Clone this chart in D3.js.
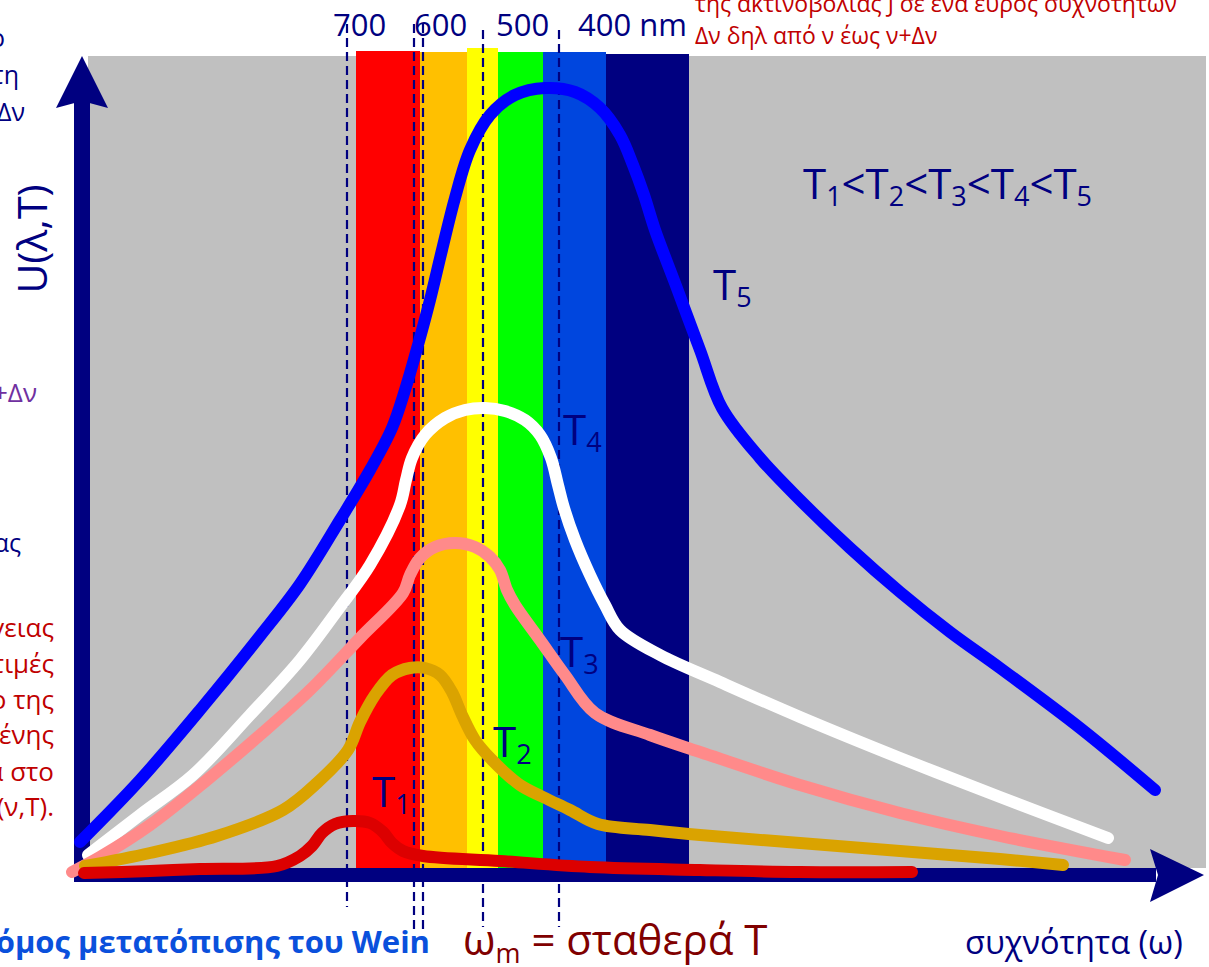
<!DOCTYPE html>
<html><head><meta charset="utf-8">
<script src="https://cdn.jsdelivr.net/npm/d3@7"></script>
<style>
html,body{margin:0;padding:0;background:#fff;overflow:hidden;}
svg{display:block;font-family:"Open Sans","Noto Sans",sans-serif;}
</style></head><body>
<svg id="chart" width="1209" height="967"></svg>
<script>
// ---------------- data (arbitrary units: frequency 0..112, U 0..80) ----------------
const seriesNames = ["T5", "T4", "T3", "T2", "T1"];
const seriesColors = ["#0000FF", "#FFFFFF", "#FF8A8A", "#DAA300", "#DC0000"];

const freqT5 = [0, 6, 12, 18, 22, 26, 29, 31.2, 32.5, 33.8, 35, 36.2, 37.5, 39, 41, 43.5, 46.5, 49.5, 52, 54, 55.3, 56.4, 57.5, 59.5, 62, 64.2, 68, 72, 77, 82, 87, 92, 100, 107.5];
const valT5  = [2.8, 9, 16, 23.4, 28.6, 35, 40, 44.2, 48, 52.5, 57, 62, 67.2, 72, 75.5, 77.5, 78.2, 77.8, 76.2, 73.5, 70.5, 67.5, 64, 58.7, 52, 46.2, 41.2, 37, 32.2, 27.8, 23.8, 20.2, 14.2, 8];

const freqT4 = [0.8, 6, 11.3, 17, 22, 26, 29, 32, 32.6, 33.2, 34.5, 36.5, 38.5, 40.5, 42.5, 44.5, 46, 47.1, 47.8, 48.4, 49.5, 51, 52.5, 54, 58, 64, 72, 82, 92, 102.8];
const valT4  = [1.5, 5.5, 9.5, 15.5, 21, 26.3, 30.5, 36.5, 39, 41.2, 43.5, 45.2, 46, 46.2, 45.9, 45, 43.5, 41.2, 38.5, 36.2, 33, 29.5, 26.5, 24, 21.5, 18.8, 15.3, 11.2, 7.3, 3.2];

const freqT3 = [-0.8, 2, 7, 12.7, 18, 23, 28, 32.3, 33, 34, 35.5, 37.5, 39.5, 41, 42, 42.7, 43.5, 46, 48.5, 51.5, 57, 62, 72, 82, 92, 104.5];
const valT3  = [-0.2, 1.3, 4.5, 9, 13.5, 18, 23.2, 27.7, 29.5, 31.2, 32.3, 32.7, 32.3, 31.3, 30, 28, 26.5, 23, 19.5, 15.7, 13.5, 11.8, 8.5, 5.7, 3.4, 1];

const freqT2 = [0.5, 7, 13.7, 20.3, 23.7, 26.8, 28, 29.5, 31.2, 33, 34.5, 36, 37.2, 38.2, 39.5, 41.2, 44, 46.3, 49, 51.8, 57, 62, 72, 82, 92, 98.3];
const valT2  = [0.4, 1.7, 3.4, 6, 8.7, 12, 14.8, 17.5, 19.5, 20.2, 20.2, 19.5, 17.8, 15.5, 13, 11, 8.5, 7.3, 6, 4.6, 4, 3.5, 2.7, 1.9, 1.1, 0.5];

const freqT1 = [0.4, 7, 12, 19.7, 22, 23.2, 24.2, 25.5, 27.3, 29, 30.3, 31.2, 32.3, 34.3, 42, 51, 62, 72, 83.2];
const valT1  = [-0.3, -0.1, 0.1, 0.4, 1.4, 2.4, 3.7, 4.6, 4.9, 4.7, 3.8, 2.7, 1.9, 1.4, 0.9, 0.3, 0, -0.2, -0.2];

// visible spectrum bands (frequency edges) and colours
const bandEdges  = [27.6, 34, 38.7, 41.8, 46.3, 52.6, 60.9];
const bandTops   = [81.9, 81.8, 82.2, 81.8, 81.8, 81.6];
const bandColors = ["#FF0000", "#FFC000", "#FFFF00", "#00FF00", "#0046DE", "#000080"];

// wavelength tick labels and dashed marker lines
const tickLabels = ["700", "600", "500", "400 nm"];
const tickPos    = [25.3, 33.4, 41.6, 49.8];
const dashPos    = [26.7, 33.4, 34.3, 40.3, 47.9];

// curve labels
const curveLabelNums = ["5", "4", "3", "2", "1"];
const curveLabelAt   = [[63.3, 57], [48.3, 42.5], [48, 20.3], [41.3, 11.3], [29.2, 6.3]];

// ---------------- drawing ----------------
const svg = d3.select("#chart");
const x = d3.scaleLinear().domain([0, 112]).range([80, 1200]);
const y = d3.scaleLinear().domain([0, 80]).range([870, 70]);
const NAVY = "#000080";

// plot background
svg.append("rect").attr("x", 88).attr("y", 56).attr("width", 1118).attr("height", 812).attr("fill", "#C0C0C0");

// spectrum bands
svg.append("g").selectAll("rect").data(bandColors).join("rect")
  .attr("x", (d, i) => x(bandEdges[i]))
  .attr("width", (d, i) => x(bandEdges[i + 1]) - x(bandEdges[i]))
  .attr("y", (d, i) => y(bandTops[i]))
  .attr("height", (d, i) => y(0.2) - y(bandTops[i]))
  .attr("fill", d => d);

// dashed lines
const dashTop = [24, 24, 24, 30, 30], dashBot = [907, 933, 933, 927, 927];
svg.append("g").selectAll("line").data(dashPos).join("line")
  .attr("x1", d => x(d)).attr("x2", d => x(d))
  .attr("y1", (d, i) => dashTop[i]).attr("y2", (d, i) => dashBot[i])
  .attr("stroke", NAVY).attr("stroke-width", 2.2).attr("stroke-dasharray", "9,5");

// axes
svg.append("rect").attr("x", 74).attr("y", 100).attr("width", 16).attr("height", 782).attr("fill", NAVY);
svg.append("rect").attr("x", 74).attr("y", 868).attr("width", 1082).attr("height", 14).attr("fill", NAVY);
svg.append("path").attr("d", "M82,56 L108,108 L82,101 L56,108 Z").attr("fill", NAVY);
svg.append("path").attr("d", "M1204,875 L1150,902 L1158,875 L1150,849 Z").attr("fill", NAVY);

// curves
const series = [[freqT5, valT5], [freqT4, valT4], [freqT3, valT3], [freqT2, valT2], [freqT1, valT1]];
const line = d3.line().x(d => x(d[0])).y(d => y(d[1])).curve(d3.curveCatmullRom.alpha(0.5));
svg.append("g").selectAll("path").data(series).join("path")
  .attr("d", s => line(s[0].map((f, i) => [f, s[1][i]])))
  .attr("fill", "none")
  .attr("stroke", (d, i) => seriesColors[i])
  .attr("stroke-width", 12)
  .attr("stroke-linecap", "round")
  .attr("stroke-linejoin", "round");

// top wavelength labels
svg.append("g").selectAll("text").data(tickLabels).join("text")
  .attr("x", (d, i) => x(tickPos[i])).attr("y", 36)
  .attr("font-size", 31).attr("fill", NAVY).text(d => d);

// curve labels
const cl = svg.append("g").selectAll("text").data(curveLabelNums).join("text")
  .attr("x", (d, i) => x(curveLabelAt[i][0])).attr("y", (d, i) => y(curveLabelAt[i][1]))
  .attr("font-size", 42).attr("fill", NAVY);
cl.append("tspan").text("T");
cl.append("tspan").attr("font-size", 27).attr("dy", 7).text(d => d);

// inequality
const ineq = svg.append("text").attr("x", 803).attr("y", 199).attr("font-size", 42).attr("fill", NAVY);
["1", "2", "3", "4", "5"].forEach((n, i) => {
  ineq.append("tspan").attr("dy", i === 0 ? 0 : -7).text((i === 0 ? "" : "<") + "T");
  ineq.append("tspan").attr("font-size", 27).attr("dy", 7).text(n);
});

// y axis label
svg.append("text").attr("transform", "translate(47,239) rotate(-90)")
  .attr("text-anchor", "middle").attr("font-size", 41).attr("fill", NAVY).text("U(λ,T)");

// top-right red note
const red = "#C00000";
svg.append("text").attr("x", 695).attr("y", 12).attr("font-size", 23).attr("fill", red)
  .text("της ακτινοβολίας J σε ένα εύρος συχνοτήτων");
svg.append("text").attr("x", 695).attr("y", 44).attr("font-size", 23).attr("fill", red)
  .text("Δν δηλ από ν έως ν+Δν");

// left cut-off fragments
const leftNavy = [["ο", 5, 47], ["στη", 19, 84], ["Δν", 25, 121], ["ας", 21, 552]];
leftNavy.forEach(t => svg.append("text").attr("x", t[1]).attr("y", t[2]).attr("text-anchor", "end")
  .attr("font-size", 25).attr("fill", NAVY).text(t[0]));
svg.append("text").attr("x", 37).attr("y", 402).attr("text-anchor", "end")
  .attr("font-size", 26).attr("fill", "#7030A0").text("ν+Δν");
const leftRed = [["ενέργειας", 637], ["τιμές", 673], ["το της", 709], ["μένης", 744], ["α στο", 781], ["U(ν,Τ).", 816]];
leftRed.forEach(t => svg.append("text").attr("x", 54).attr("y", t[1]).attr("text-anchor", "end")
  .attr("font-size", 26).attr("fill", red).text(t[0]));

// bottom texts
svg.append("text").attr("x", 430).attr("y", 953).attr("text-anchor", "end")
  .attr("font-size", 31).attr("font-weight", "bold").attr("fill", "#0A50DC")
  .text("Νόμος μετατόπισης του Wein");
const wm = svg.append("text").attr("x", 463).attr("y", 955).attr("font-size", 42).attr("fill", "#800000");
wm.append("tspan").text("ω");
wm.append("tspan").attr("font-size", 27).attr("dy", 8).text("m");
wm.append("tspan").attr("dy", -8).text(" = σταθερά Τ");
svg.append("text").attr("x", 965).attr("y", 954).attr("font-size", 32.5).attr("fill", NAVY)
  .text("συχνότητα (ω)");
</script>
</body></html>
